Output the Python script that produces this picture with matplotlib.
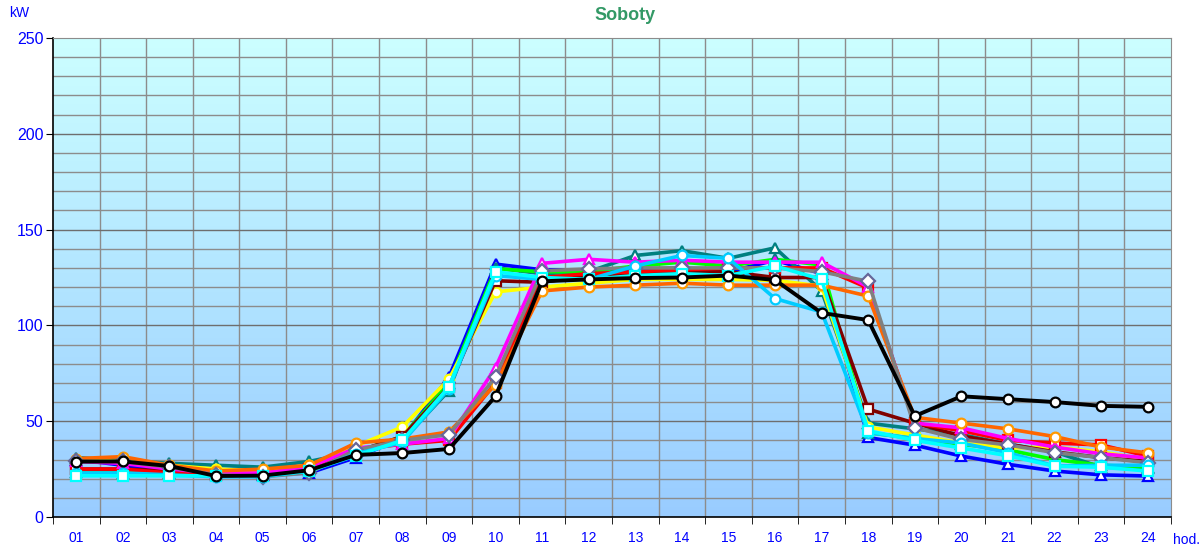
import numpy as np
import matplotlib.pyplot as plt

plt.rcParams['font.family'] = ['Liberation Sans', 'DejaVu Sans']

hours = ["01", "02", "03", "04", "05", "06", "07", "08", "09", "10", "11", "12",
         "13", "14", "15", "16", "17", "18", "19", "20", "21", "22", "23", "24"]

# values in kW
blue = [30, 27, 24, 24, 22, 23, 31, 41, 73, 132, 129, 129, 129, 130, 128, 134, 127, 41.5, 37.5, 31.8, 27.5, 24, 22, 21.4]
cyan = [21.5, 21.5, 21.5, 21.5, 21.5, 24, 32, 40, 68, 128, 125, 124, 126, 127, 126, 131, 124, 45, 40, 36, 32, 26.5, 26, 24]
teal = [31, 29.5, 28, 27, 26, 29, 34, 40, 66, 130, 127, 128, 136.5, 139, 135, 140.5, 118, 49, 46, 43, 38, 34, 26, 25.5]
green = [23.6, 23, 23, 23, 23, 25, 34, 42, 70, 129.5, 128, 128, 131, 133, 131, 134.5, 131.5, 44, 41, 38, 35, 30, 27, 26]
yellow = [30, 29, 27, 25, 24, 27, 37, 47, 72, 117.5, 120, 122, 124, 124, 124, 123.5, 120.5, 47, 42.8, 38.6, 36, 36.5, 34, 30]
maroon = [25, 25, 24, 22, 22, 24, 34, 42, 68, 123.3, 122.5, 126, 127, 128, 128, 125, 125, 56.3, 49, 42.3, 38, 34, 31, 29]
skyblue = [23, 23, 22, 21, 21, 24, 33, 39, 67, 126, 124, 124, 131, 136.5, 135, 114, 107, 44, 41, 38.6, 33.6, 26.6, 27, 27]
magenta = [29, 28, 25, 23, 23, 26, 36, 38, 41, 78, 132.4, 134.5, 133, 134, 133, 133, 133, 120, 49, 46.5, 41, 36.5, 33, 30.8]
gray = [29, 29, 26, 22, 21, 23, 35, 40, 43, 73, 128.5, 129.5, 130, 130, 130, 130, 128, 123, 46.6, 40.5, 37.6, 33.6, 31, 28.3]
red = [25, 25, 23, 22, 22, 25, 35, 38, 40, 70, 125, 127, 128, 129, 130, 130, 130, 119.5, 49, 45, 40, 38.6, 37.6, 31.8]
orange = [30.5, 31.5, 27, 24, 25, 27, 38.6, 40.7, 44.4, 69, 118, 120, 121, 122, 121, 121, 121, 115.3, 52, 49, 46, 42, 36.5, 33.5]
black = [28.9, 29, 26.6, 21.4, 21.6, 24.4, 32.4, 33.4, 35.5, 63, 123, 124, 124.7, 125, 126, 123.7, 106.5, 102.8, 52.7, 63, 61.5, 60, 58, 57.5]

series = [
    (blue, "#0000FF", "^", "#0000FF"),
    (teal, "#008080", "^", "#008080"),
    (green, "#00FF00", "^", "#008080"),
    (yellow, "#FFFF00", "o", "#FFFF00"),
    (maroon, "#800000", "s", "#800000"),
    (red, "#FF0000", "s", "#FF0000"),
    (magenta, "#FF00FF", "^", "#FF00FF"),
    (orange, "#FF6600", "o", "#FF9900"),
    (gray, "#808080", "D", "#666699"),
    (skyblue, "#00CCFF", "o", "#00CCFF"),
    (cyan, "#00FFFF", "s", "#00FFFF"),
    (black, "#000000", "o", "#000000"),
]

W, H = 1199, 547
fig = plt.figure(figsize=(W / 100, H / 100), dpi=100)
ax = fig.add_axes([53 / W, 1 - 517 / H, (1171 - 53) / W, (517 - 38) / H])

x = np.arange(1, 25)

# gradient background, light cyan at the top to light blue at the bottom
grad = np.linspace(0, 1, 256).reshape(-1, 1)
top = np.array([0.80, 1.0, 1.0])
bot = np.array([0.60, 0.80, 1.0])
img = top * (1 - grad[..., None]) + bot * grad[..., None]
ax.imshow(img, extent=[0.5, 24.5, 0, 250], aspect="auto", zorder=0)
ax.set_xlim(0.5, 24.5)
ax.set_ylim(0, 250)

for v in np.arange(1.5, 24.5, 1):
    ax.axvline(v, color="#8c8c8c", lw=1, zorder=1)
for v in range(10, 250, 10):
    ax.axhline(v, color="#6e6e6e" if v % 50 == 0 else "#8c8c8c", lw=1, zorder=1)

for vals, lc, mk, mec in series:
    lw = 2.6 if lc != "#000000" else 2.8
    ax.plot(x, vals, color=lc, lw=lw, marker=mk, markersize=7,
            markerfacecolor="white", markeredgecolor=mec, markeredgewidth=1.6, zorder=3)

ax.set_yticks(range(0, 251, 50))
ax.set_xticks(x)
ax.set_xticklabels(hours)
ax.set_xticks(np.arange(0.5, 25, 1), minor=True)
ax.tick_params(axis="x", which="major", length=0, pad=10, labelsize=10, labelcolor="#0000FF")
ax.tick_params(axis="x", which="minor", length=5, direction="out", color="black")
ax.tick_params(axis="y", length=5, direction="out", labelsize=11.5, labelcolor="#0000FF", pad=2)

for s in ["top", "right"]:
    ax.spines[s].set_color("#8c8c8c")
for s in ["left", "bottom"]:
    ax.spines[s].set_color("black")
    ax.spines[s].set_linewidth(1.2)

fig.text(625 / W, 1 - 16 / H, "Soboty", color="#339966", fontsize=13, fontweight="bold",
         ha="center", va="center")
fig.text(19 / W, 1 - 13 / H, "kW", color="#0000FF", fontsize=10, ha="center", va="center")
fig.text(1186 / W, 1 - 540 / H, "hod.", color="#0000FF", fontsize=10, ha="center", va="center")

fig.savefig("out.png", dpi=100)
